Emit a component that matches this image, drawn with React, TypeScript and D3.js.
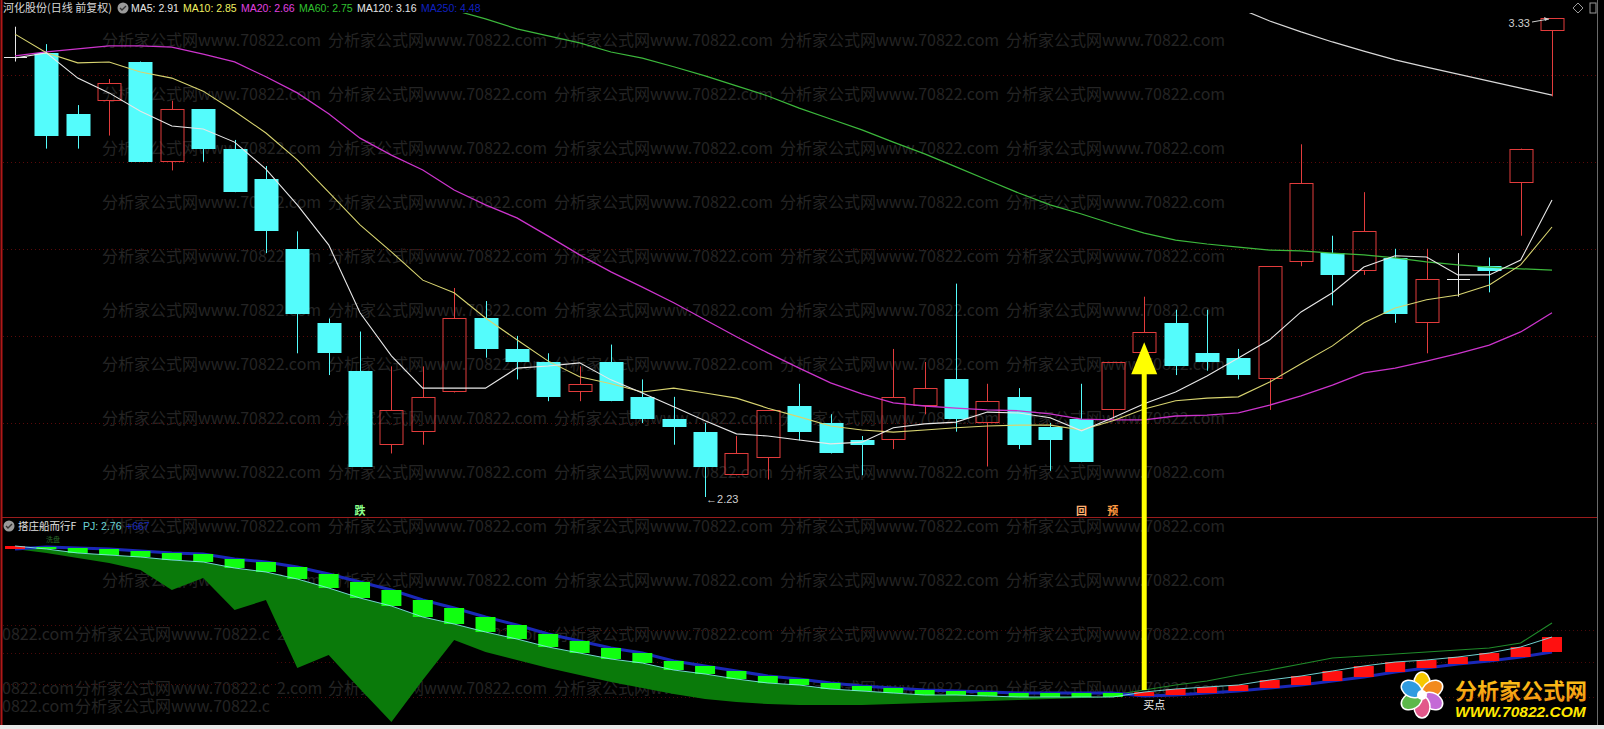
import React from "react";
import * as d3 from "d3";

// ---------- data ----------
const stockName = "河化股份(日线 前复权)";
const indicatorName = "搭庄船而行F";

const opens = [3.24,3.25,3.11,3.14,3.23,3.00,3.12,3.03,2.96,2.80,2.63,2.52,2.35,2.38,2.47,2.64,2.57,2.54,2.47,2.54,2.46,2.41,2.38,2.28,2.32,2.44,2.40,2.36,2.36,2.44,2.50,2.40,2.46,2.39,2.41,2.43,2.56,2.63,2.56,2.55,2.50,2.77,2.79,2.75,2.78,2.63,2.73,2.76,2.95,3.30];
const highs = [3.31,3.27,3.13,3.19,3.23,3.14,3.12,3.05,2.99,2.84,2.64,2.61,2.53,2.53,2.71,2.68,2.60,2.56,2.53,2.58,2.50,2.46,2.40,2.37,2.43,2.49,2.42,2.37,2.57,2.54,2.72,2.49,2.48,2.40,2.49,2.54,2.69,2.66,2.66,2.57,2.76,3.04,2.83,2.93,2.80,2.80,2.79,2.78,3.03,3.33];
const lows = [3.23,3.03,3.03,3.06,3.00,2.98,3.00,2.93,2.79,2.56,2.51,2.30,2.33,2.35,2.47,2.55,2.50,2.45,2.45,2.45,2.40,2.35,2.23,2.28,2.27,2.36,2.33,2.28,2.34,2.42,2.38,2.30,2.34,2.29,2.31,2.41,2.56,2.51,2.52,2.50,2.43,2.76,2.67,2.74,2.63,2.56,2.69,2.70,2.83,3.15];
const closes = [3.24,3.06,3.06,3.18,3.00,3.12,3.03,2.93,2.84,2.65,2.56,2.30,2.43,2.46,2.64,2.57,2.54,2.46,2.49,2.45,2.41,2.39,2.30,2.33,2.43,2.38,2.33,2.35,2.46,2.48,2.41,2.45,2.35,2.36,2.31,2.54,2.61,2.53,2.54,2.51,2.76,2.95,2.74,2.84,2.65,2.73,2.73,2.75,3.03,3.33];

const ma5 = [3.238,3.250,3.192,3.158,3.116,3.082,3.075,3.045,2.983,2.901,2.809,2.653,2.554,2.480,2.480,2.480,2.526,2.531,2.538,2.499,2.469,2.437,2.405,2.375,2.370,2.361,2.352,2.356,2.389,2.398,2.402,2.425,2.423,2.412,2.382,2.412,2.444,2.471,2.508,2.549,2.591,2.655,2.699,2.758,2.784,2.781,2.740,2.740,2.774,2.912];
const ma10 = [3.293,3.250,3.227,3.229,3.206,3.192,3.162,3.116,3.066,3.004,2.930,2.855,2.793,2.728,2.699,2.641,2.591,2.542,2.506,2.490,2.471,2.480,2.469,2.457,2.434,2.414,2.393,2.384,2.379,2.384,2.389,2.393,2.395,2.395,2.384,2.405,2.432,2.451,2.457,2.460,2.494,2.536,2.577,2.630,2.664,2.683,2.694,2.717,2.763,2.850];
const ma20 = [3.243,3.252,3.259,3.266,3.266,3.263,3.247,3.229,3.195,3.158,3.110,3.054,3.015,2.981,2.935,2.901,2.871,2.829,2.786,2.747,2.712,2.676,2.637,2.598,2.561,2.526,2.492,2.467,2.446,2.439,2.434,2.430,2.428,2.421,2.409,2.407,2.407,2.416,2.418,2.423,2.441,2.462,2.487,2.515,2.526,2.542,2.559,2.579,2.609,2.653];
const ma60: (number | null)[] = [null,null,null,null,null,null,null,null,null,null,null,null,null,null,3.348,3.328,3.305,3.289,3.273,3.252,3.238,3.218,3.197,3.174,3.151,3.123,3.098,3.073,3.045,3.018,2.988,2.958,2.928,2.901,2.880,2.857,2.836,2.820,2.811,2.804,2.797,2.795,2.790,2.786,2.779,2.770,2.763,2.758,2.754,2.751];
const ma120: (number | null)[] = [null,null,null,null,null,null,null,null,null,null,null,null,null,null,null,null,null,null,null,null,null,null,null,null,null,null,null,null,null,null,null,null,null,null,null,null,null,null,null,3.353,3.323,3.298,3.275,3.254,3.234,3.217,3.201,3.185,3.169,3.153];

const maLegendText = ["MA5: 2.91", "MA10: 2.85", "MA20: 2.66", "MA60: 2.75", "MA120: 3.16", "MA250: 4.48"];
const maLegendColor = ["#e6e6e6", "#f0f060", "#e040e0", "#30c030", "#e6e6e6", "#1020c0"];
const priceGrid = [2.4, 2.6, 2.8, 3.0, 3.2];

// indicator panel
const fastLine = [1.78,1.75,1.71,1.69,1.67,1.64,1.62,1.56,1.52,1.45,1.36,1.26,1.18,1.07,1.00,0.92,0.85,0.77,0.71,0.65,0.61,0.54,0.50,0.45,0.41,0.39,0.35,0.33,0.31,0.29,0.29,0.28,0.27,0.27,0.27,0.27,0.32,0.35,0.37,0.39,0.44,0.48,0.53,0.58,0.62,0.64,0.67,0.71,0.77,0.87];
const slowLine = [1.75,1.77,1.76,1.75,1.73,1.71,1.70,1.65,1.62,1.57,1.50,1.42,1.34,1.24,1.16,1.07,0.99,0.90,0.83,0.76,0.71,0.63,0.58,0.53,0.48,0.45,0.41,0.38,0.36,0.34,0.33,0.32,0.31,0.31,0.31,0.31,0.28,0.29,0.31,0.33,0.36,0.39,0.43,0.47,0.52,0.56,0.60,0.63,0.67,0.72];
const areaBottom = [1.75,1.71,1.66,1.61,1.54,1.34,1.46,1.14,1.24,0.56,0.69,0.35,0.02,0.44,0.84,0.72,0.64,0.56,0.49,0.42,0.36,0.30,0.25,0.22,0.20,0.19,0.19,0.19,0.20,0.21,0.22,0.23,0.24,0.25,0.26,0.27];
const trendLine: (number | null)[] = [null,null,null,null,null,null,null,null,null,null,null,null,null,null,null,null,null,null,null,null,null,null,null,null,null,null,null,null,null,null,null,null,null,null,null,0.29,0.34,0.39,0.43,0.49,0.54,0.60,0.66,0.68,0.70,0.72,0.74,0.76,0.81,1.01];
const indGrid = [0.27, 0.62, 0.94];
const overlayGrid = [0.40, 0.71, 0.99];

const signalIdx = [11, 34, 35];
const signalText = ["跌", "回", "预"];
const signalColor = ["#8cff8c", "#ffb070", "#ff9a40"];
const buyIdx = 36;

const N = closes.length;
const RED = "#e23c3c";
const CYAN = "#54fcfc";
const FONT = "'Liberation Sans', Arial, 'Noto Sans CJK SC', sans-serif";
const CJK = "'Noto Sans CJK SC', 'Liberation Sans', sans-serif";
const WM = "分析家公式网www.70822.com";

export default function App() {
  const W = 1604, H = 729;
  const x = d3.scaleLinear().domain([0, N - 1]).range([15, 1552]);
  const yP = d3.scaleLinear().domain([2.23, 3.33]).range([497, 18]);
  const yI = d3.scaleLinear().domain([0, 2.06]).range([724, 518]);
  const bw = 23;
  const sw = 20;

  const priceLine = d3.line<number | null>()
    .defined((v) => v != null)
    .x((_, i) => x(i))
    .y((v) => yP(v as number));
  const indLine = d3.line<number | null>()
    .defined((v) => v != null)
    .x((_, i) => x(i))
    .y((v) => yI(v as number));
  const area = d3.area<number>()
    .x((_, i) => x(i))
    .y0((_, i) => yI(areaBottom[i]))
    .y1((_, i) => yI(fastLine[i]));

  const wmRows = d3.range(40, 700, 54);
  const wmCols = d3.range(0, 5).map((k) => 102 + k * 226);
  const overlayRows = [634, 688, 706];

  const minI = d3.minIndex(lows);
  const bx = x(buyIdx);
  const tipY = yP(lows[buyIdx]) - 11;

  const petals = [
    { a: -90, c: "#f6c800" },
    { a: -30, c: "#f28a1e" },
    { a: 30, c: "#c46ad6" },
    { a: 90, c: "#e2578a" },
    { a: 150, c: "#5cb84a" },
    { a: 210, c: "#2f9be0" },
  ];
  const fx = 1422, fy = 695;
  const legendX = [131, 183, 241, 299, 357, 421];

  return (
    <svg width={W} height={H} style={{ position: "absolute", left: 0, top: 0, background: "#000" }} fontFamily={FONT}>
      <defs>
        <clipPath id="upper"><rect x={2} y={13} width={1595} height={503} /></clipPath>
        <clipPath id="lower"><rect x={2} y={519} width={1595} height={205} /></clipPath>
        <linearGradient id="logoG" x1="0" y1="0" x2="0" y2="1">
          <stop offset="0" stopColor="#ffd21a" />
          <stop offset="1" stopColor="#f08a10" />
        </linearGradient>
      </defs>
      <rect x={0} y={0} width={W} height={H} fill="#000" />

      {/* watermark */}
      <g fontFamily={CJK} fontSize={16} fill="#242424">
        {wmRows.map((ry) =>
          overlayRows.includes(ry) ? (
            <g key={ry}>
              <text x={277} y={ry + 6}>2.com</text>
              {wmCols.slice(1).map((cx) => (
                <text key={cx} x={cx} y={ry + 6}>{WM}</text>
              ))}
            </g>
          ) : (
            <g key={ry}>
              {wmCols.map((cx) => (
                <text key={cx} x={cx} y={ry + 6}>{WM}</text>
              ))}
            </g>
          )
        )}
        {overlayRows.map((ry) => (
          <g key={ry}>
            <text x={2} y={ry + 6}>0822.com</text>
            <text x={75} y={ry + 6}>分析家公式网www.70822.c</text>
          </g>
        ))}
      </g>
      {overlayGrid.map((p) => (
        <line key={p} x1={3} x2={276} y1={Math.round(yI(p)) + 0.5} y2={Math.round(yI(p)) + 0.5} stroke="#4a0a0a" strokeDasharray="1 3" />
      ))}

      {/* grid */}
      {priceGrid.map((p) => (
        <line key={p} x1={3} x2={1596} y1={Math.round(yP(p)) + 0.5} y2={Math.round(yP(p)) + 0.5} stroke="#5a0a0a" strokeDasharray="1 3" />
      ))}
      {indGrid.map((p) => (
        <line key={p} x1={277} x2={1596} y1={Math.round(yI(p)) + 0.5} y2={Math.round(yI(p)) + 0.5} stroke="#4a0a0a" strokeDasharray="1 3" />
      ))}

      {/* borders */}
      <line x1={1.5} x2={1.5} y1={0} y2={725} stroke="#b01818" strokeWidth={2} />
      <line x1={2} x2={1597} y1={517.5} y2={517.5} stroke="#9a1c1c" />
      <line x1={1597.5} x2={1597.5} y1={0} y2={725} stroke="#6a6a6a" />
      <rect x={0} y={725} width={W} height={4} fill="#e8e8e8" />

      {/* candles */}
      <g clipPath="url(#upper)">
        {d3.range(N).map((i) => {
          const o = opens[i], c = closes[i], h = highs[i], l = lows[i];
          const cx = Math.round(x(i)) + 0.5;
          const up = c > o, flat = c === o;
          const top = Math.round(yP(Math.max(o, c)));
          const bot = Math.round(yP(Math.min(o, c)));
          if (flat) {
            return (
              <g key={i} stroke="#e8e8e8">
                <line x1={cx} x2={cx} y1={yP(h)} y2={yP(l)} />
                <line x1={cx - bw / 2} x2={cx + bw / 2} y1={top + 0.5} y2={top + 0.5} />
              </g>
            );
          }
          if (up) {
            return (
              <g key={i} stroke={RED}>
                <line x1={cx} x2={cx} y1={yP(h)} y2={top} />
                <line x1={cx} x2={cx} y1={bot} y2={yP(l)} />
                <rect x={cx - bw / 2} y={top + 0.5} width={bw} height={Math.max(1, bot - top - 1)} fill="none" />
              </g>
            );
          }
          return (
            <g key={i}>
              <line x1={cx} x2={cx} y1={yP(h)} y2={yP(l)} stroke={CYAN} />
              <rect x={cx - bw / 2 - 0.5} y={top} width={bw + 1} height={Math.max(1, bot - top)} fill={CYAN} />
            </g>
          );
        })}

        {/* moving averages */}
        <path d={priceLine(ma20) || ""} fill="none" stroke="#cc34cc" strokeWidth={1.3} />
        <path d={priceLine(ma60) || ""} fill="none" stroke="#3cb83c" strokeWidth={1.2} />
        <path d={priceLine(ma120) || ""} fill="none" stroke="#d8d8d8" strokeWidth={1.2} />
        <path d={priceLine(ma10) || ""} fill="none" stroke="#d8d470" strokeWidth={1.1} />
        <path d={priceLine(ma5) || ""} fill="none" stroke="#e8e8e8" strokeWidth={1.1} />
      </g>

      {/* extreme labels */}
      <g fontSize={11} fill="#cfcfcf">
        <text x={x(minI) + 1} y={yP(lows[minI]) + 6}>←{lows[minI].toFixed(2)}</text>
        <text x={x(N - 1) - 22} y={yP(highs[N - 1]) + 9} textAnchor="end">{highs[N - 1].toFixed(2)}</text>
        <line x1={x(N - 1) - 20} x2={x(N - 1) - 3} y1={yP(highs[N - 1]) + 4} y2={yP(highs[N - 1]) + 1} stroke="#cfcfcf" />
        <path d={`M${x(N - 1) - 3},${yP(highs[N - 1]) + 1} l-5,-2 l1,4 z`} fill="#cfcfcf" />
      </g>

      {/* header */}
      <g fontSize={10.5}>
        <text x={3} y={12} fill="#d8d8d8" fontFamily={CJK} fontSize={11}>{stockName}</text>
        <circle cx={123} cy={8} r={5.5} fill="#9a9a9a" />
        <path d="M120,8 l2,2 l4,-4" stroke="#333" strokeWidth={1.4} fill="none" />
        {maLegendText.map((t, k) => (
          <text key={t} x={legendX[k]} y={12} fill={maLegendColor[k]}>{t}</text>
        ))}
      </g>
      <g stroke="#9a9a9a" fill="none">
        <path d="M1578,3 l5,5 l-5,5 l-5,-5 z" />
        <rect x={1590} y={3} width={6} height={10} />
      </g>

      {/* signals */}
      {signalIdx.map((si, k) => (
        <text key={si} x={x(si)} y={512} textAnchor="middle" dominantBaseline="middle" fontSize={11} fontWeight="bold" fontFamily={CJK} fill={signalColor[k]}>{signalText[k]}</text>
      ))}

      {/* indicator panel */}
      <g clipPath="url(#lower)">
        <path d={area(fastLine.slice(0, areaBottom.length)) || ""} fill="#0a7a0a" />
        <path d={indLine(trendLine) || ""} fill="none" stroke="#1f8a2a" strokeWidth={1.2} />
        <path d={indLine(slowLine) || ""} fill="none" stroke="#1a28b8" strokeWidth={3} />
        {d3.range(N).map((i) => {
          const a = fastLine[i], b = slowLine[i];
          const top = yI(Math.max(a, b)), bot = yI(Math.min(a, b));
          const col = a > b ? "#ff1010" : "#10ff10";
          return <rect key={i} x={x(i) - sw / 2} y={top} width={sw} height={Math.max(2, bot - top)} fill={col} />;
        })}
        <path d={indLine(fastLine) || ""} fill="none" stroke="#7ee6e6" strokeWidth={0.9} />
      </g>

      {/* indicator header */}
      <g fontSize={10.5}>
        <circle cx={9} cy={526} r={5.5} fill="#9a9a9a" />
        <path d="M6,526 l2,2 l4,-4" stroke="#333" strokeWidth={1.4} fill="none" />
        <text x={18} y={530} fill="#e0e0e0" fontFamily={CJK}>{indicatorName}</text>
        <text x={83} y={530} fill="#6cd6d6">PJ: 2.76</text>
        <text x={126} y={530} fill="#1a28b8">+667</text>
        <text x={46} y={542} fill="#2a6a2a" fontSize={7} fontFamily={CJK}>洗盘</text>
      </g>

      {/* buy arrow */}
      <g fill="#ffff00">
        <rect x={bx - 2.5} y={tipY + 30} width={5} height={yI(slowLine[buyIdx]) - 6 - (tipY + 30)} />
        <path d={`M${bx},${tipY} L${bx + 13},${tipY + 32} L${bx - 13},${tipY + 32} Z`} />
      </g>
      <text x={bx + 10} y={709} textAnchor="middle" fontSize={11} fill="#f0f0f0" fontFamily={CJK}>买点</text>

      {/* logo */}
      <g>
        {petals.map((p) => {
          const px = fx + 12 * Math.cos((p.a * Math.PI) / 180);
          const py = fy + 12 * Math.sin((p.a * Math.PI) / 180);
          return <ellipse key={p.a} cx={px} cy={py} rx={11} ry={8} transform={`rotate(${p.a} ${px} ${py})`} fill={p.c} stroke="#fff" strokeWidth={1.5} />;
        })}
        <circle cx={fx} cy={fy} r={5} fill="#fff" />
        <text x={1455} y={699} fontSize={22} fontWeight="bold" fill="url(#logoG)" fontFamily={CJK}>分析家公式网</text>
        <text x={1455} y={717} fontSize={15.5} fontWeight="bold" fontStyle="italic" fill="#ffe800">WWW.70822.COM</text>
      </g>
    </svg>
  );
}
